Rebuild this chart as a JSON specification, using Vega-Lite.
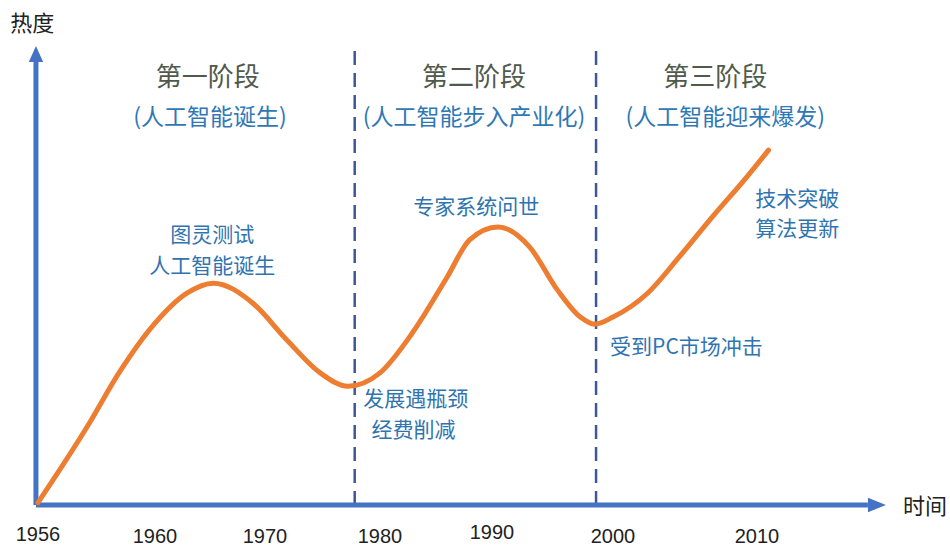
{
  "$schema": "https://vega.github.io/schema/vega-lite/v6.json",
  "width": 950,
  "height": 551,
  "autosize": {"type": "fit", "contains": "padding"},
  "padding": 0,
  "background": "white",
  "config": {"view": {"stroke": null}},
  "datasets": {
    "curve": [
      {"year": 1956.0, "value": 0.5},
      {"year": 1956.51, "value": 5.2},
      {"year": 1957.68, "value": 16.4},
      {"year": 1958.8, "value": 28.0},
      {"year": 1959.93, "value": 37.6},
      {"year": 1962.9, "value": 44.4},
      {"year": 1965.3, "value": 46.5},
      {"year": 1968.9, "value": 42.3},
      {"year": 1971.9, "value": 34.6},
      {"year": 1974.8, "value": 27.7},
      {"year": 1977.2, "value": 24.9},
      {"year": 1980.0, "value": 27.7},
      {"year": 1982.9, "value": 36.1},
      {"year": 1986.0, "value": 47.8},
      {"year": 1988.0, "value": 55.6},
      {"year": 1990.5, "value": 58.3},
      {"year": 1993.1, "value": 54.1},
      {"year": 1995.4, "value": 45.1},
      {"year": 1997.3, "value": 39.4},
      {"year": 1998.5, "value": 37.9},
      {"year": 2000.0, "value": 39.4},
      {"year": 2002.4, "value": 44.4},
      {"year": 2004.6, "value": 52.0},
      {"year": 2006.9, "value": 60.4},
      {"year": 2009.3, "value": 68.8},
      {"year": 2010.8, "value": 74.4}
    ],
    "dividers": [
      {"year": 1977.8, "year2": 1977.8, "value": 0, "value2": 96.4},
      {"year": 1998.6, "year2": 1998.6, "value": 0, "value2": 96.4}
    ],
    "axes": [
      {"year": 1955.93, "year2": 1955.93, "value": 0, "value2": 92.9},
      {"year": 1955.93, "year2": 2017.7, "value": 0, "value2": 0}
    ],
    "arrowUp": [{"year": 1955.93, "value": 94.55}],
    "arrowRight": [{"year": 2018.33, "value": 0}],
    "stageTitles": [
      {"year": 1964.8, "value": 89.5, "label": "第一阶段"},
      {"year": 1988.4, "value": 89.5, "label": "第二阶段"},
      {"year": 2007.1, "value": 89.5, "label": "第三阶段"}
    ],
    "stageSubs": [
      {"year": 1965.0, "value": 81.1, "label": "(人工智能诞生)"},
      {"year": 1988.4, "value": 81.1, "label": "(人工智能步入产业化)"},
      {"year": 2007.8, "value": 81.1, "label": "(人工智能迎来爆发)"}
    ],
    "notes": [
      {"year": 1965.2, "value": 56.4, "label": "图灵测试"},
      {"year": 1965.2, "value": 50.0, "label": "人工智能诞生"},
      {"year": 1988.6, "value": 62.3, "label": "专家系统问世"},
      {"year": 1983.2, "value": 22.1, "label": "发展遇瓶颈"},
      {"year": 1983.0, "value": 15.6, "label": "经费削减"},
      {"year": 2005.1, "value": 32.9, "label": "受到PC市场冲击"},
      {"year": 2012.8, "value": 64.0, "label": "技术突破"},
      {"year": 2012.8, "value": 57.6, "label": "算法更新"}
    ],
    "ticks": [
      {"year": 1956, "value": -6.3, "label": "1956"},
      {"year": 1960, "value": -6.7, "label": "1960"},
      {"year": 1970, "value": -6.7, "label": "1970"},
      {"year": 1980, "value": -6.7, "label": "1980"},
      {"year": 1990, "value": -5.9, "label": "1990"},
      {"year": 2000, "value": -6.7, "label": "2000"},
      {"year": 2010, "value": -6.7, "label": "2010"}
    ],
    "axisTitles": [
      {"year": 1955.8, "value": 100.8, "label": "热度"},
      {"year": 2021.67, "value": -0.4, "label": "时间"}
    ]
  },
  "encoding": {
    "x": {
      "field": "year",
      "type": "quantitative",
      "axis": null,
      "scale": {
        "domain": [1956, 1960, 1970, 1980, 1990, 2000, 2010],
        "range": [38, 155, 265, 380, 492, 613, 757],
        "nice": false,
        "zero": false
      }
    },
    "y": {
      "field": "value",
      "type": "quantitative",
      "axis": null,
      "scale": {"domain": [0, 100], "range": [505, 28], "nice": false, "zero": false}
    }
  },
  "layer": [
    {
      "data": {"name": "dividers"},
      "mark": {"type": "rule", "color": "#3d5797", "strokeWidth": 2.5, "strokeDash": [14, 8]},
      "encoding": {"x2": {"field": "year2"}, "y2": {"field": "value2"}}
    },
    {
      "data": {"name": "axes"},
      "mark": {"type": "rule", "color": "#4472C4", "strokeWidth": 5},
      "encoding": {"x2": {"field": "year2"}, "y2": {"field": "value2"}}
    },
    {
      "data": {"name": "arrowUp"},
      "mark": {"type": "point", "shape": "M0,-1L0.9,1L-0.9,1Z", "size": 256, "filled": true, "color": "#4472C4", "opacity": 1},
      "encoding": {}
    },
    {
      "data": {"name": "arrowRight"},
      "mark": {"type": "point", "shape": "M1,0L-1,0.8L-1,-0.8Z", "size": 324, "filled": true, "color": "#4472C4", "opacity": 1},
      "encoding": {}
    },
    {
      "data": {"name": "curve"},
      "mark": {"type": "line", "color": "#ED7D31", "strokeWidth": 5, "interpolate": "monotone", "strokeCap": "round"},
      "encoding": {}
    },
    {
      "data": {"name": "stageTitles"},
      "mark": {"type": "text", "font": "Noto Sans CJK SC", "fontSize": 26, "color": "#505a4c", "align": "center", "baseline": "middle"},
      "encoding": {"text": {"field": "label"}}
    },
    {
      "data": {"name": "stageSubs"},
      "mark": {"type": "text", "font": "Noto Sans CJK SC", "fontSize": 23, "color": "#2f78b5", "align": "center", "baseline": "middle"},
      "encoding": {"text": {"field": "label"}}
    },
    {
      "data": {"name": "notes"},
      "mark": {"type": "text", "font": "Noto Sans CJK SC", "fontSize": 21, "color": "#2f74b0", "align": "center", "baseline": "middle"},
      "encoding": {"text": {"field": "label"}}
    },
    {
      "data": {"name": "ticks"},
      "mark": {"type": "text", "font": "Liberation Sans", "fontSize": 20, "fontWeight": "normal", "color": "#222222", "align": "center", "baseline": "middle"},
      "encoding": {"text": {"field": "label"}}
    },
    {
      "data": {"name": "axisTitles"},
      "mark": {"type": "text", "font": "Noto Sans CJK SC", "fontSize": 22, "color": "#222222", "align": "center", "baseline": "middle"},
      "encoding": {"text": {"field": "label"}}
    }
  ]
}
